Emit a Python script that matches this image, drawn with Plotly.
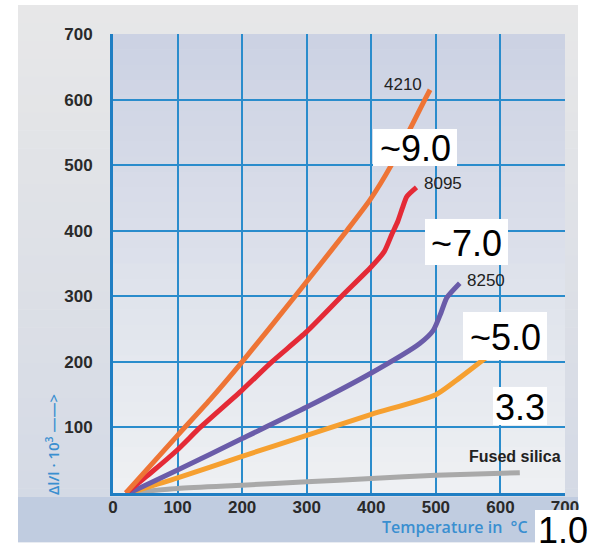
import plotly.graph_objects as go

# ---------------- data ----------------
temp_4210 = [20, 60, 100, 150, 200, 282, 362, 398, 431, 483, 491]
dl_4210 = [0, 44, 88, 142, 200, 300, 400, 447, 500, 600, 615]

temp_8095 = [20, 60, 100, 135, 200, 246, 300, 354, 400, 420, 432, 441, 448, 455, 470]
dl_8095 = [0, 32, 66, 100, 157, 200, 246, 300, 345, 368, 395, 414, 434, 452, 466]

temp_8250 = [25, 100, 200, 300, 400, 475, 496, 508, 517, 537]
dl_8250 = [0, 35, 83, 131, 183, 228, 248, 275, 298, 320]

temp_33 = [25, 100, 200, 300, 400, 500, 532, 585]
dl_33 = [0, 23, 56, 88, 120, 150, 172, 212]

temp_silica = [20, 100, 200, 300, 400, 500, 630]
dl_silica = [0, 7, 12, 17, 22, 27, 31]

x_ticks = [0, 100, 200, 300, 400, 500, 600, 700]
y_ticks = [100, 200, 300, 400, 500, 600, 700]

cte_labels = ["~9.0", "~7.0", "~5.0", "3.3", "1.0"]

# ---------------- layout geometry ----------------
W, H = 590, 548
L, R, T, B = 113, 565, 34, 493


def px(xp):
    return (xp - L) / (R - L)


def py(yp):
    return (B - yp) / (B - T)


def hexmix(c1, c2, t):
    a = [int(c1[i:i + 2], 16) for i in (1, 3, 5)]
    b = [int(c2[i:i + 2], 16) for i in (1, 3, 5)]
    return "#%02x%02x%02x" % tuple(round(a[k] + (b[k] - a[k]) * t) for k in range(3))


shapes = []
n = 30
# outer panel gradient
y0, y1 = 5, 542
for i in range(n):
    ya = y0 + (y1 - y0) * i / n
    yb = y0 + (y1 - y0) * (i + 1) / n
    shapes.append(dict(type="rect", xref="paper", yref="paper", layer="below",
                       x0=px(18), x1=px(578), y0=py(ya), y1=py(yb + 0.5),
                       fillcolor=hexmix("#e7e7e8", "#d3d9e5", i / (n - 1)), line_width=0))
# bottom band
shapes.append(dict(type="rect", xref="paper", yref="paper", layer="below",
                   x0=px(18), x1=px(578), y0=py(497), y1=py(542),
                   fillcolor="#c0cce0", line_width=0))
# plot area gradient
for i in range(n):
    ya = T + (B - T) * i / n
    yb = T + (B - T) * (i + 1) / n
    shapes.append(dict(type="rect", xref="paper", yref="paper", layer="below",
                       x0=0, x1=1, y0=py(ya), y1=py(yb + 0.5),
                       fillcolor=hexmix("#ccd2e3", "#eef0f3", i / (n - 1)), line_width=0))

# white label boxes (above traces)
boxes = [(373, 129, 457, 166), (425, 219, 508, 265), (463, 312, 547, 360),
         (493, 387, 547, 425), (535, 510, 590, 548)]
for (x0, y0b, x1, y1b) in boxes:
    shapes.append(dict(type="rect", xref="paper", yref="paper", layer="above",
                       x0=px(x0), x1=px(x1), y0=py(y0b), y1=py(y1b),
                       fillcolor="white", line_width=0))

annotations = []
for (x0, y0b, x1, y1b), lab in zip(boxes, cte_labels):
    annotations.append(dict(xref="paper", yref="paper", x=px((x0 + x1) / 2), y=py((y0b + y1b) / 2 + 1),
                            text=lab, showarrow=False, xanchor="center", yanchor="middle",
                            font=dict(family="Liberation Sans, Arial", size=36, color="black")))

lab_font = dict(family="Liberation Sans, Arial", size=17, color="#222222")
annotations += [
    dict(x=temp_4210[-1], y=dl_4210[-1], text="4210", showarrow=False, xanchor="right",
         yanchor="middle", xshift=-6, yshift=5, font=lab_font),
    dict(x=temp_8095[-1], y=dl_8095[-1], text="8095", showarrow=False, xanchor="left",
         yanchor="middle", xshift=6, yshift=4, font=lab_font),
    dict(x=temp_8250[-1], y=dl_8250[-1], text="8250", showarrow=False, xanchor="left",
         yanchor="middle", xshift=5, yshift=3, font=lab_font),
    dict(x=temp_silica[-1], y=dl_silica[-1], text="<b>Fused silica</b>", showarrow=False,
         xanchor="right", yanchor="middle", xshift=43, yshift=16,
         font=dict(family="Liberation Sans, Arial", size=16, color="#222222")),
    dict(xref="paper", yref="paper", x=px(52), y=py(445), text="Δl/l · 10<sup>3</sup> ——>",
         textangle=-90, showarrow=False, xanchor="center", yanchor="middle",
         font=dict(family="Open Sans, Liberation Sans", size=15, color="#3a8fd0", weight=600)),
    dict(xref="paper", yref="paper", x=px(380), y=py(527), text="Temperature in  °C",
         showarrow=False, xanchor="left", yanchor="middle",
         font=dict(family="Open Sans, Liberation Sans", size=16, color="#3a8fd0", weight=600)),
]

fig = go.Figure()
series = [
    (temp_silica, dl_silica, "#a9a9a9"),
    (temp_33, dl_33, "#f6a030"),
    (temp_8250, dl_8250, "#6a5ca9"),
    (temp_8095, dl_8095, "#e42a36"),
    (temp_4210, dl_4210, "#ee7435"),
]
for xs, ys, c in series:
    fig.add_trace(go.Scatter(x=xs, y=ys, mode="lines",
                             line=dict(color=c, width=5, shape="spline", smoothing=0.6),
                             hoverinfo="skip", showlegend=False, cliponaxis=False))

tick_font = dict(family="Liberation Sans, Arial", size=17, color="#2a2a2a", weight="bold")
fig.update_layout(
    width=W, height=H,
    margin=dict(l=L, r=W - R, t=T, b=H - B),
    paper_bgcolor="white", plot_bgcolor="rgba(0,0,0,0)",
    shapes=shapes, annotations=annotations,
    showlegend=False,
    xaxis=dict(range=[0, 700], tickvals=x_ticks, showgrid=True, gridcolor="#2a8ccc", gridwidth=1.5,
               zeroline=False, showline=True, linecolor="#1f7ec3", linewidth=3,
               tickfont=tick_font, ticks="", ticklabelstandoff=-3, fixedrange=True),
    yaxis=dict(range=[0, 700], tickvals=y_ticks, showgrid=True, gridcolor="#2a8ccc", gridwidth=1.5,
               zeroline=False, showline=True, linecolor="#1f7ec3", linewidth=3,
               tickfont=tick_font, ticks="", ticklabelstandoff=14, fixedrange=True),
)

fig.write_html("out.html")
